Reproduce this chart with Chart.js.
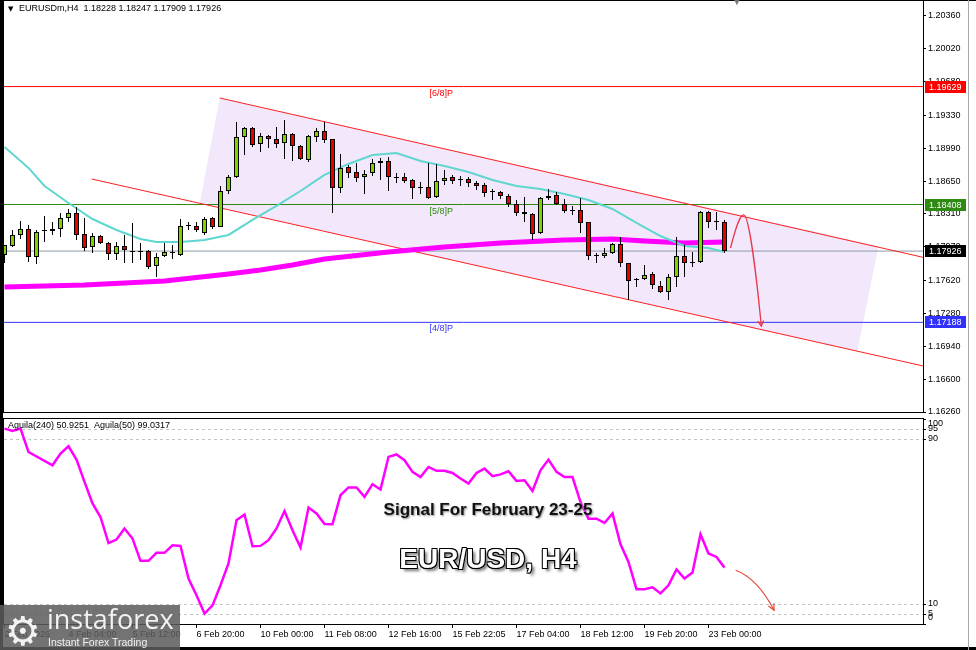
<!DOCTYPE html>
<html lang="en">
<head>
<meta charset="utf-8">
<title>EURUSDm, H4</title>
<script src="https://cdn.jsdelivr.net/npm/chart.js@4.4.0/dist/chart.umd.min.js"></script>
<style>
  html, body { margin: 0; padding: 0; background: #fff; }
  #wrap { position: relative; width: 976px; height: 650px; overflow: hidden; background: #fff; }
  #wrap canvas { position: absolute; left: 0; }
  #main-chart { top: 0; }
  #ind-chart { top: 416px; }
  .edge { position: absolute; background: #000; }
  #signal { position: absolute; left: 0; top: 500px; width: 976px; text-align: center;
    font: bold 17px/19px "Liberation Sans", Arial, sans-serif; color: #111;
    text-shadow: 1px 1px 2px rgba(0,0,0,0.45), 0 0 2px #fff; }
  #pair { position: absolute; left: 0; top: 543px; width: 976px; text-align: center;
    font: bold 28px/32px "Liberation Sans", Arial, sans-serif; color: #fff;
    text-shadow: -1px -1px 0 #000, 1px -1px 0 #000, -1px 1px 0 #000, 1px 1px 0 #000,
                 0 -1px 0 #000, 0 1px 0 #000, 3px 3px 3px rgba(0,0,0,0.55); }
  #logo { position: absolute; left: 0; top: 605px; width: 180px; height: 45px;
    background: rgba(92,92,92,0.86); color: #f2f2f2; }
  #logo .gear { position: absolute; left: 5px; top: 2px; font: 40px/48px "DejaVu Sans"; }
  #logo .brand { position: absolute; left: 47px; top: -2px; font: 27px/32px "Open Sans"; }
  #logo .tag { position: absolute; left: 48px; top: 31px; font: 10.5px/12px "Liberation Sans"; }
  #handle { position: absolute; left: 733px; top: -5px; font: 10px "DejaVu Sans"; color: #777; }
</style>
</head>
<body>
<div id="wrap">
  <canvas id="main-chart" width="976" height="416"></canvas>
  <canvas id="ind-chart" width="976" height="234"></canvas>
  <div class="edge" style="left:0;top:0;width:976px;height:1px"></div>
  <div class="edge" style="left:0;top:0;width:3px;height:650px"></div>
  <div class="edge" style="left:0;top:647px;width:976px;height:3px"></div>
  <div class="edge" style="left:968px;top:0;width:1px;height:650px;background:#aaa"></div>
  <div id="handle">▼</div>
  <div id="signal">Signal For February 23-25</div>
  <div id="pair">EUR/USD, H4</div>
  <div id="logo">
    <span class="gear">⚙</span>
    <span class="brand">instaforex</span>
    <span class="tag">Instant Forex Trading</span>
  </div>
</div>
<script>
// ---- data ----
const xLabels = ['2 Feb 2026', '4 Feb 04:00', '5 Feb 12:00', '6 Feb 20:00', '10 Feb 00:00', '11 Feb 08:00',
  '12 Feb 16:00', '15 Feb 22:05', '17 Feb 04:00', '18 Feb 12:00', '19 Feb 20:00', '23 Feb 00:00'];

const opens = [1.17886, 1.17979, 1.18093, 1.18155, 1.17865, 1.18134, 1.18134, 1.18155, 1.18269, 1.18320,
  1.18103, 1.17968, 1.18082, 1.18010, 1.17896, 1.17979, 1.17927, 1.17917, 1.17927, 1.17772,
  1.17875, 1.17906, 1.17886, 1.18186, 1.18186, 1.18113, 1.18269, 1.18176, 1.18548, 1.18693,
  1.19107, 1.19200, 1.19035, 1.19118, 1.19087, 1.19045, 1.19138, 1.19014, 1.18869, 1.19107,
  1.19169, 1.19087, 1.18579, 1.18797, 1.18745, 1.18693, 1.18735, 1.18838, 1.18859, 1.18683,
  1.18693, 1.18662, 1.18579, 1.18590, 1.18486, 1.18652, 1.18693, 1.18662, 1.18672, 1.18631,
  1.18610, 1.18538, 1.18538, 1.18496, 1.18414, 1.18331, 1.18310, 1.18113, 1.18476, 1.18507,
  1.18414, 1.18341, 1.18352, 1.18227, 1.17875, 1.17875, 1.17906, 1.17999, 1.17803, 1.17627,
  1.17637, 1.17689, 1.17565, 1.17503, 1.17658, 1.17875, 1.17803, 1.17813, 1.18331, 1.18227,
  1.18228];
const highs = [1.17989, 1.18144, 1.18238, 1.18196, 1.18144, 1.18289, 1.18227, 1.18320, 1.18362, 1.18383,
  1.18269, 1.18113, 1.18093, 1.18020, 1.18020, 1.18093, 1.18217, 1.18010, 1.17937, 1.17906,
  1.18010, 1.17989, 1.18258, 1.18227, 1.18227, 1.18279, 1.18279, 1.18600, 1.18714, 1.19263,
  1.19211, 1.19211, 1.19149, 1.19128, 1.19211, 1.19283, 1.19149, 1.19024, 1.19128, 1.19200,
  1.19263, 1.19087, 1.18931, 1.18817, 1.18838, 1.18766, 1.18880, 1.18890, 1.18900, 1.18735,
  1.18735, 1.18672, 1.18641, 1.18838, 1.18828, 1.18766, 1.18714, 1.18704, 1.18693, 1.18652,
  1.18631, 1.18569, 1.18548, 1.18517, 1.18455, 1.18486, 1.18320, 1.18486, 1.18569, 1.18538,
  1.18465, 1.18393, 1.18476, 1.18227, 1.17906, 1.17958, 1.18010, 1.18072, 1.17803, 1.17648,
  1.17782, 1.17710, 1.17616, 1.17689, 1.18072, 1.17989, 1.17917, 1.18341, 1.18341, 1.18331,
  1.18247];
const lows = [1.17803, 1.17968, 1.18051, 1.17813, 1.17792, 1.18020, 1.18093, 1.18072, 1.18227, 1.18041,
  1.17927, 1.17906, 1.17999, 1.17834, 1.17834, 1.17803, 1.17803, 1.17834, 1.17741, 1.17658,
  1.17865, 1.17844, 1.17875, 1.18144, 1.18124, 1.18093, 1.18155, 1.18176, 1.18517, 1.18683,
  1.18921, 1.19004, 1.18952, 1.18993, 1.18993, 1.18880, 1.18859, 1.18869, 1.18848, 1.19056,
  1.19045, 1.18320, 1.18528, 1.18683, 1.18641, 1.18517, 1.18704, 1.18662, 1.18548, 1.18631,
  1.18631, 1.18465, 1.18517, 1.18465, 1.18476, 1.18610, 1.18621, 1.18600, 1.18590, 1.18559,
  1.18486, 1.18455, 1.18465, 1.18383, 1.18289, 1.18227, 1.18041, 1.18103, 1.18455, 1.18403,
  1.18320, 1.18300, 1.18113, 1.17834, 1.17803, 1.17855, 1.17896, 1.17761, 1.17420, 1.17554,
  1.17627, 1.17534, 1.17492, 1.17420, 1.17554, 1.17658, 1.17761, 1.17803, 1.18165, 1.18144,
  1.17909];
const closes = [1.17989, 1.18093, 1.18155, 1.17865, 1.18124, 1.18134, 1.18155, 1.18269, 1.18320, 1.18093,
  1.17958, 1.18082, 1.18010, 1.17896, 1.17979, 1.17937, 1.17917, 1.17927, 1.17761, 1.17865,
  1.17917, 1.17906, 1.18186, 1.18186, 1.18144, 1.18258, 1.18176, 1.18548, 1.18693, 1.19107,
  1.19200, 1.19024, 1.19118, 1.19087, 1.19035, 1.19138, 1.19014, 1.18880, 1.19118, 1.19169,
  1.19076, 1.18579, 1.18786, 1.18735, 1.18683, 1.18724, 1.18838, 1.18859, 1.18693, 1.18683,
  1.18652, 1.18579, 1.18579, 1.18476, 1.18652, 1.18683, 1.18652, 1.18662, 1.18631, 1.18600,
  1.18528, 1.18538, 1.18496, 1.18414, 1.18320, 1.18310, 1.18103, 1.18476, 1.18496, 1.18414,
  1.18341, 1.18341, 1.18217, 1.17875, 1.17875, 1.17906, 1.17999, 1.17803, 1.17616, 1.17627,
  1.17679, 1.17575, 1.17503, 1.17658, 1.17875, 1.17803, 1.17803, 1.18331, 1.18227, 1.18227,
  1.17926];

// fast moving average (turquoise)
const maFastBars = [0, 3, 5, 8, 11, 14, 17, 19, 22, 25, 28, 31, 34, 37, 40, 43, 46, 49, 52, 55,
  58, 61, 64, 67, 70, 73, 76, 79, 82, 85, 88, 90];
const maFast = [1.19004, 1.18787, 1.18600, 1.18424, 1.18258, 1.18144, 1.18051, 1.18020, 1.18020, 1.18041,
  1.18093, 1.18248, 1.18393, 1.18548, 1.18714, 1.18828, 1.18921, 1.18942, 1.18859, 1.18807,
  1.18745, 1.18662, 1.18600, 1.18569, 1.18517, 1.18455, 1.18362, 1.18217, 1.18082, 1.17979,
  1.17958, 1.17917];

// slow moving average (thick magenta)
const maSlowBars = [0, 10, 20, 28, 32, 36, 40, 48, 55, 62, 70, 76, 80, 85, 90];
const maSlow = [1.17554, 1.17575, 1.17616, 1.17689, 1.17730, 1.17782, 1.17844, 1.17917, 1.17968, 1.18010,
  1.18041, 1.18051, 1.18031, 1.18010, 1.18020];

// Aguila(240) oscillator
const aguilaBars = [0, 1, 2, 3, 6, 7, 8, 9, 10, 11, 12, 13, 14, 15, 16, 17, 18, 19, 20, 21,
  22, 23, 24, 25, 26, 27, 28, 29, 30, 31, 32, 33, 34, 35, 36, 37, 38, 39, 40, 41,
  42, 43, 44, 45, 46, 47, 48, 49, 50, 51, 52, 53, 54, 55, 56, 57, 58, 59, 60, 61,
  62, 63, 64, 65, 66, 67, 68, 69, 70, 71, 72, 73, 74, 75, 76, 77, 78, 79, 80, 81,
  82, 83, 84, 85, 86, 87, 88, 89, 90];
const aguila = [95.3, 94.2, 95.3, 83.9, 77.4, 83.1, 86.7, 80.2, 69.3, 58.8, 52.2, 39.5, 41.2, 46.6, 41.7, 30.8, 30.8, 34.7, 34.7, 38.4,
  38.1, 22.2, 14.0, 5.1, 9.1, 18.9, 29.5, 50.6, 53.4, 37.9, 38.1, 40.9, 46.6, 55.1, 45.7, 37.3, 56.8, 53.9, 48.8, 48.7,
  62.8, 66.6, 66.6, 62.0, 68.2, 65.6, 81.5, 82.7, 79.9, 74.2, 71.7, 76.6, 74.7, 74.7, 73.7, 71.0, 68.5, 73.7, 75.8, 72.1,
  73.0, 74.5, 69.8, 70.1, 64.9, 75.0, 80.2, 74.2, 71.7, 71.7, 59.5, 51.4, 51.4, 49.3, 53.9, 38.9, 30.3, 17.0, 17.0, 17.9,
  14.9, 18.9, 26.6, 22.2, 25.1, 43.8, 34.4, 32.7, 27.5];

const priceTicks = [1.20360, 1.20020, 1.19680, 1.19330, 1.18990, 1.18650, 1.18310, 1.17970, 1.17620,
  1.17280, 1.16940, 1.16600, 1.16260];
const aguilaTicks = [100, 95, 90, 10, 5, 0];
const aguilaDashed = [95, 90, 10, 5];

// horizontal levels
const levelPrices = [1.19629, 1.18408, 1.17926, 1.17188];
const levelNames = ['[6/8]P', '[5/8]P', '', '[4/8]P'];
const levelColors = ['#ff0000', '#2e8a0c', '#8c9aa8', '#3434ff'];
const levelBoxColors = ['#ff0000', '#2e8a12', '#000000', '#3232ff'];

// channel drawn by hand on the chart
const channelUpper = [[26.9, 1.19511], [114.8, 1.17862]];
const channelLower = [[10.9, 1.18672], [114.8, 1.16737]];
const shadeX = [26.9, 109.25, 106.6, 24.4, 26.9];
const shadeY = [1.19511, 1.17978, 1.16890, 1.18421, 1.19511];

// forecast arrows (bezier in data units)
const mainArrow = [[90.75, 1.17958], [91.4, 1.18165], [91.9, 1.18300], [92.4, 1.18300],
  [93.1, 1.18300], [94.1, 1.17580], [94.6, 1.17150]];
const indArrow = [[91.4, 26.2], [94.1, 22.3], [96.2, 6.7]];

// ---- chart setup ----
Chart.defaults.font.family = '"Liberation Sans", Arial, sans-serif';
Chart.defaults.font.size = 9;
Chart.defaults.color = '#000';

const X_MIN = -0.0625, X_MAX = 114.8125;
const UP = '#7cd300', DOWN = '#e60000';
const FONT = '9px "Liberation Sans", Arial, sans-serif';

function pts(xs, ys) { return xs.map((v, k) => ({ x: v, y: ys[k] })); }

// keep the plot box fixed: no extra room for half labels
function fixAxis(s) {
  s.width = 53;
  s.paddingTop = 0;
  s.paddingBottom = 0;
}

function frameArea(ctx, a) {
  ctx.strokeStyle = '#000';
  ctx.lineWidth = 1;
  ctx.strokeRect(Math.floor(a.left) - 0.5, Math.floor(a.top) - 0.5,
    Math.round(a.right - a.left) + 1, Math.round(a.bottom - a.top) + 1);
}

function arrowHead(ctx, fx, fy, tx, ty, len, spread) {
  const ang = Math.atan2(ty - fy, tx - fx);
  ctx.beginPath();
  ctx.moveTo(tx - len * Math.cos(ang - spread), ty - len * Math.sin(ang - spread));
  ctx.lineTo(tx, ty);
  ctx.lineTo(tx - len * Math.cos(ang + spread), ty - len * Math.sin(ang + spread));
  ctx.stroke();
}

const bars = opens.map((_, i) => i);

const mainExtras = {
  id: 'mainExtras',
  afterDatasetsDraw(chart) {
    const { ctx, scales: { x, y } } = chart;
    ctx.save();
    // level captions
    ctx.font = FONT;
    ctx.textAlign = 'center';
    ctx.textBaseline = 'top';
    levelPrices.forEach((p, k) => {
      if (!levelNames[k]) return;
      ctx.fillStyle = levelColors[k];
      ctx.fillText(levelNames[k], x.getPixelForValue(54.6), y.getPixelForValue(p) + 2);
    });
    // curved forecast arrow
    const P = mainArrow.map(([a, b]) => [x.getPixelForValue(a), y.getPixelForValue(b)]);
    ctx.strokeStyle = '#e8384a';
    ctx.lineWidth = 1.3;
    ctx.beginPath();
    ctx.moveTo(P[0][0], P[0][1]);
    ctx.bezierCurveTo(P[1][0], P[1][1], P[2][0], P[2][1], P[3][0], P[3][1]);
    ctx.bezierCurveTo(P[4][0], P[4][1], P[5][0], P[5][1], P[6][0], P[6][1]);
    ctx.stroke();
    arrowHead(ctx, P[5][0], P[5][1], P[6][0], P[6][1], 6, 0.5);
    ctx.restore();
  },
  afterDraw(chart) {
    const { ctx, chartArea: a, scales: { y } } = chart;
    ctx.save();
    frameArea(ctx, a);
    // header
    ctx.fillStyle = '#000';
    ctx.textBaseline = 'middle';
    ctx.textAlign = 'left';
    ctx.font = '7px "DejaVu Sans"';
    ctx.fillText('▼', 8, 9);
    ctx.font = FONT;
    ctx.fillText('EURUSDm,H4  1.18228 1.18247 1.17909 1.17926', 19, 9);
    // price boxes on the axis
    levelPrices.forEach((p, k) => {
      const py = Math.round(y.getPixelForValue(p));
      ctx.fillStyle = levelBoxColors[k];
      ctx.fillRect(a.right + 2, py - 6, 41, 12);
      ctx.fillStyle = '#fff';
      ctx.fillText(p.toFixed(5), a.right + 6, py + 0.5);
    });
    ctx.restore();
  }
};

new Chart(document.getElementById('main-chart'), {
  type: 'bar',
  data: {
    datasets: [
      { type: 'line', data: pts(shadeX, shadeY), borderWidth: 0, backgroundColor: 'rgb(243,231,251)',
        fill: 'shape', order: 10 },
      ...levelPrices.map((p, k) => ({ type: 'line', data: [{ x: X_MIN, y: p }, { x: X_MAX, y: p }],
        borderColor: levelColors[k], borderWidth: 1, fill: false, order: 9 })),
      { type: 'line', data: channelUpper.map(([a, b]) => ({ x: a, y: b })), borderColor: '#ff2020',
        borderWidth: 1, fill: false, order: 8 },
      { type: 'line', data: channelLower.map(([a, b]) => ({ x: a, y: b })), borderColor: '#ff2020',
        borderWidth: 1, fill: false, order: 8 },
      { type: 'line', data: pts(maSlowBars, maSlow), borderColor: '#ff00ff', borderWidth: 5,
        fill: false, order: 7 },
      { type: 'line', data: pts(maFastBars, maFast), borderColor: '#5fd6cf', borderWidth: 2,
        fill: false, order: 6 },
      { type: 'bar', data: bars.map(i => ({ x: i, y: [lows[i], highs[i]] })), backgroundColor: '#000',
        barThickness: 1, grouped: false, inflateAmount: 0, order: 5 },
      { type: 'bar', data: bars.map(i => ({ x: i, y: [opens[i], closes[i]] })),
        backgroundColor: bars.map(i => closes[i] >= opens[i] ? UP : DOWN),
        borderColor: '#000', borderWidth: 1, borderSkipped: false, barThickness: 5, minBarLength: 1,
        grouped: false, inflateAmount: 0, order: 4 }
    ]
  },
  options: {
    responsive: false,
    animation: false,
    events: [],
    layout: { padding: { left: 4, top: 1, right: 0, bottom: 4 } },
    elements: { point: { radius: 0 }, line: { tension: 0 } },
    plugins: { legend: { display: false }, tooltip: { enabled: false } },
    scales: {
      x: { type: 'linear', min: X_MIN, max: X_MAX, offset: false, display: false },
      y: {
        position: 'right', min: 1.16260, max: 1.20515,
        afterBuildTicks: s => { s.ticks = priceTicks.map(v => ({ value: v })); },
        afterFit: fixAxis,
        ticks: { callback: v => v.toFixed(5), padding: 2, autoSkip: false, color: '#000' },
        grid: { drawOnChartArea: false, tickLength: 3, color: '#000' },
        border: { display: true, color: '#000' }
      }
    }
  },
  plugins: [mainExtras]
});

const indExtras = {
  id: 'indExtras',
  beforeDatasetsDraw(chart) {
    const { ctx, chartArea: a, scales: { y } } = chart;
    ctx.save();
    ctx.strokeStyle = '#c4c4c4';
    ctx.lineWidth = 1;
    ctx.setLineDash([3, 3]);
    aguilaDashed.forEach(v => {
      const py = Math.round(y.getPixelForValue(v)) + 0.5;
      ctx.beginPath();
      ctx.moveTo(a.left, py);
      ctx.lineTo(a.right, py);
      ctx.stroke();
    });
    ctx.restore();
  },
  afterDatasetsDraw(chart) {
    const { ctx, scales: { x, y } } = chart;
    const P = indArrow.map(([a, b]) => [x.getPixelForValue(a), y.getPixelForValue(b)]);
    ctx.save();
    ctx.strokeStyle = '#e5473a';
    ctx.lineWidth = 1.2;
    ctx.beginPath();
    ctx.moveTo(P[0][0], P[0][1]);
    ctx.quadraticCurveTo(P[1][0], P[1][1], P[2][0], P[2][1]);
    ctx.stroke();
    arrowHead(ctx, P[1][0], P[1][1], P[2][0], P[2][1], 7, 0.45);
    ctx.restore();
  },
  afterDraw(chart) {
    const { ctx, chartArea: a, scales: { y } } = chart;
    ctx.save();
    frameArea(ctx, a);
    ctx.fillStyle = '#000';
    ctx.font = FONT;
    ctx.textBaseline = 'middle';
    ctx.textAlign = 'left';
    ctx.fillText('Aguila(240) 50.9251  Aguila(50) 99.0317', 8, 10);
    ctx.strokeStyle = '#000';
    aguilaTicks.forEach(v => {
      const py = Math.round(y.getPixelForValue(v));
      const ly = Math.min(Math.max(py, a.top + 5), a.bottom - 6);
      ctx.beginPath();
      ctx.moveTo(a.right, py + 0.5);
      ctx.lineTo(a.right + 3, py + 0.5);
      ctx.stroke();
      ctx.fillText(String(v), a.right + 5, ly);
    });
    ctx.restore();
  }
};

new Chart(document.getElementById('ind-chart'), {
  type: 'line',
  data: {
    datasets: [
      { data: pts(aguilaBars, aguila), borderColor: '#ff00ff', borderWidth: 2.5, fill: false }
    ]
  },
  options: {
    responsive: false,
    animation: false,
    events: [],
    layout: { padding: { left: 4, top: 3, right: 0, bottom: 0 } },
    elements: { point: { radius: 0 }, line: { tension: 0 } },
    plugins: { legend: { display: false }, tooltip: { enabled: false } },
    scales: {
      x: {
        type: 'linear', min: X_MIN, max: X_MAX, offset: false,
        afterBuildTicks: s => { s.ticks = xLabels.map((_, k) => ({ value: k * 8 })); },
        afterFit: s => { s.height = 26; },
        ticks: { callback: v => xLabels[Math.round(v / 8)], align: 'start', maxRotation: 0,
          autoSkip: false, padding: 1, color: '#000' },
        grid: { drawOnChartArea: false, tickLength: 4, color: '#000' },
        border: { display: true, color: '#000' }
      },
      y: {
        position: 'right', min: 0, max: 100,
        afterFit: fixAxis,
        ticks: { display: false },
        grid: { display: false },
        border: { display: false }
      }
    }
  },
  plugins: [indExtras]
});
</script>
</body>
</html>
